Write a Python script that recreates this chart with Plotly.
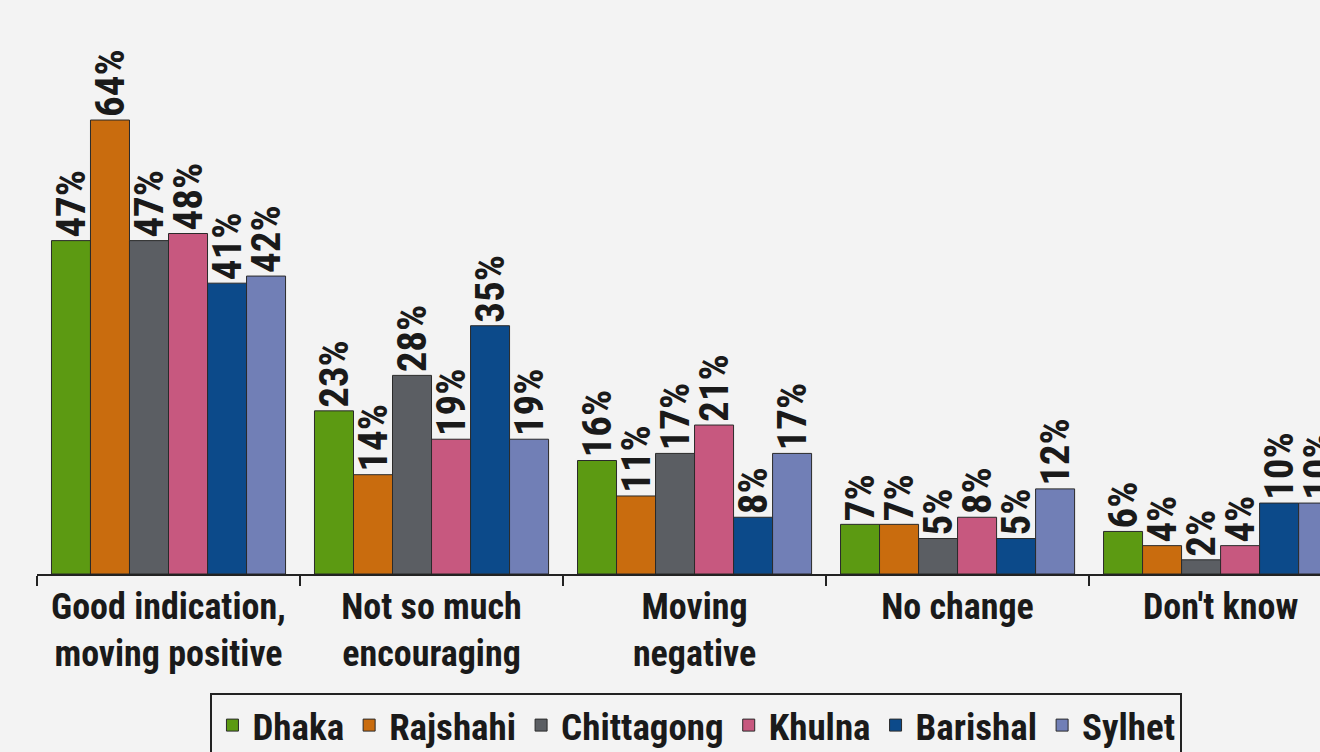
import plotly.graph_objects as go

categories = ["Good indication,<br>moving positive", "Not so much<br>encouraging",
              "Moving<br>negative", "No change", "Don't know"]
series_names = ["Dhaka", "Rajshahi", "Chittagong", "Khulna", "Barishal", "Sylhet"]
dhaka = [47, 23, 16, 7, 6]
rajshahi = [64, 14, 11, 7, 4]
chittagong = [47, 28, 17, 5, 2]
khulna = [48, 19, 21, 8, 4]
barishal = [41, 35, 8, 5, 10]
sylhet = [42, 19, 17, 12, 10]
series_values = [dhaka, rajshahi, chittagong, khulna, barishal, sylhet]
colors = ["#5c9a12", "#c96c0e", "#5b5e63", "#c7587f", "#0c4a8a", "#717fb6"]

FONT = "Liberation Sans Narrow, Arial Narrow, Roboto Condensed, Roboto, sans-serif"

fig = go.Figure()
for name, vals, col in zip(series_names, series_values, colors):
    fig.add_trace(go.Bar(
        name=name, x=categories, y=vals,
        marker=dict(color=col, line=dict(color="#2a2a2a", width=1)),
        texttemplate="%{y}%", textposition="outside", textangle=-90,
        constraintext="none", cliponaxis=False,
        textfont=dict(family=FONT, size=41, color="#1a1a1a", weight="bold"),
    ))

fig.update_layout(
    width=1320, height=752,
    barmode="group", bargap=0.11, bargroupgap=0.0,
    paper_bgcolor="#f3f3f3", plot_bgcolor="#f3f3f3",
    margin=dict(l=37, r=0, t=20, b=178, autoexpand=False),
    font=dict(family=FONT, color="#1a1a1a"),
    xaxis=dict(
        range=[-0.5, 4.378], tickson="boundaries", ticks="outside",
        ticklen=10, tickwidth=2, tickcolor="#222222",
        showline=True, linecolor="#222222", linewidth=2,
        tickfont=dict(family=FONT, size=36, color="#1a1a1a", weight="bold"),
        showgrid=False, automargin=False,
    ),
    yaxis=dict(range=[0, 78.1], visible=False, showgrid=False, zeroline=False),
    showlegend=True,
    legend=dict(
        orientation="h", x=0.514, xanchor="center", y=-0.214, yanchor="top",
        bordercolor="#222222", borderwidth=2, bgcolor="#f3f3f3",
        font=dict(family=FONT, size=37, color="#1a1a1a", weight="bold"),
        itemwidth=30, traceorder="normal",
    ),
)

fig.write_html(
    "out.html",
    config={"displayModeBar": False},
    post_script="document.body.style.margin='0';document.body.style.overflow='hidden';",
)
